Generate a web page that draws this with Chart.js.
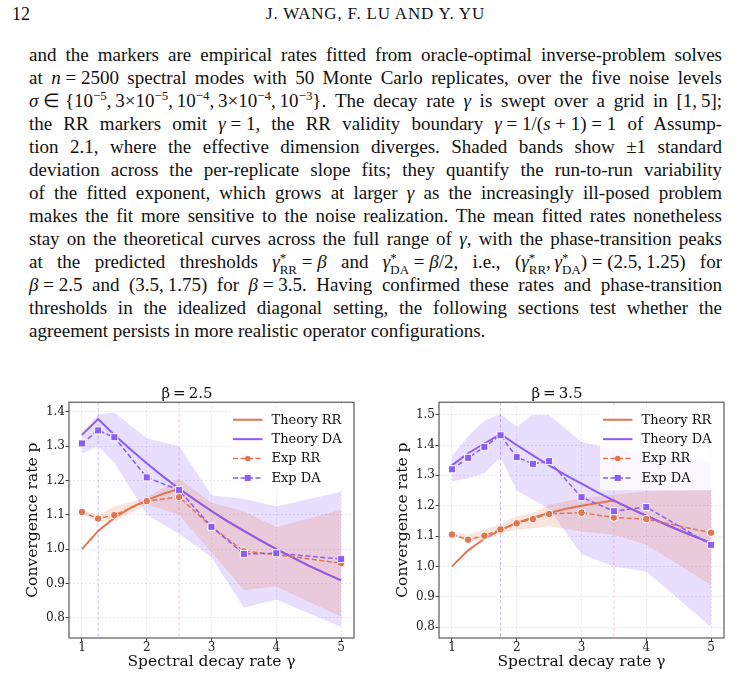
<!DOCTYPE html>
<html>
<head>
<meta charset="utf-8">
<script src="https://cdn.jsdelivr.net/npm/chart.js@4.4.1/dist/chart.umd.min.js"></script>
<style>
  html, body { margin: 0; padding: 0; background: #fff; }
  body { width: 751px; height: 677px; position: relative; overflow: hidden; font-family: "Liberation Serif", serif; color: #111; }
  .hdr { position: absolute; top: 3px; font-size: 18px; line-height: 22px; white-space: nowrap; }
  .ln { position: absolute; left: 29px; width: 693px; font-size: 19px; line-height: 22px; white-space: nowrap; }
  sup { font-size: 0.68em; vertical-align: 0.55em; line-height: 0; }
  .ss { display: inline-block; font-size: 0.68em; line-height: 0.95; vertical-align: -0.45em; }
  .ss span { display: block; }
  canvas { position: absolute; top: 382px; }
</style>
</head>
<body>

<div class="hdr" style="left:12px">12</div>
<div class="hdr" style="left:0; width:751px; text-align:center; font-size:17px; letter-spacing:0.8px">J. WANG, F. LU AND Y. YU</div>

<div class="ln j" style="top:44px"><span>and the markers are empirical rates fitted from oracle-optimal inverse-problem solves</span></div>
<div class="ln j" style="top:67px"><span>at <i>n</i>&#8197;=&#8197;2500 spectral modes with 50 Monte Carlo replicates, over the five noise levels</span></div>
<div class="ln j" style="top:90px"><span><i>σ</i>&#8197;∈&#8197;{10<sup>−5</sup>,&#8201;3×10<sup>−5</sup>,&#8201;10<sup>−4</sup>,&#8201;3×10<sup>−4</sup>,&#8201;10<sup>−3</sup>}. The decay rate <i>γ</i> is swept over a grid in [1,&#8201;5];</span></div>
<div class="ln j" style="top:113px"><span>the RR markers omit <i>γ</i>&#8197;=&#8197;1, the RR validity boundary <i>γ</i>&#8197;=&#8197;1/(<i>s</i>&#8197;+&#8197;1)&#8197;=&#8197;1 of Assump-</span></div>
<div class="ln j" style="top:136px"><span>tion 2.1, where the effective dimension diverges. Shaded bands show ±1 standard</span></div>
<div class="ln j" style="top:159px"><span>deviation across the per-replicate slope fits; they quantify the run-to-run variability</span></div>
<div class="ln j" style="top:182px"><span>of the fitted exponent, which grows at larger <i>γ</i> as the increasingly ill-posed problem</span></div>
<div class="ln j" style="top:205px"><span>makes the fit more sensitive to the noise realization. The mean fitted rates nonetheless</span></div>
<div class="ln j" style="top:228px"><span>stay on the theoretical curves across the full range of <i>γ</i>, with the phase-transition peaks</span></div>
<div class="ln j" style="top:251px"><span>at the predicted thresholds <i>γ</i><span class="ss"><span>*</span><span>RR</span></span>&#8197;=&#8197;<i>β</i> and <i>γ</i><span class="ss"><span>*</span><span>DA</span></span>&#8197;=&#8197;<i>β</i>/2, i.e., (<i>γ</i><span class="ss"><span>*</span><span>RR</span></span>,&#8201;<i>γ</i><span class="ss"><span>*</span><span>DA</span></span>)&#8197;=&#8197;(2.5,&#8201;1.25) for</span></div>
<div class="ln j" style="top:274px"><span><i>β</i>&#8197;=&#8197;2.5 and (3.5,&#8201;1.75) for <i>β</i>&#8197;=&#8197;3.5. Having confirmed these rates and phase-transition</span></div>
<div class="ln j" style="top:297px"><span>thresholds in the idealized diagonal setting, the following sections test whether the</span></div>
<div class="ln" style="top:320px"><span>agreement persists in more realistic operator configurations.</span></div>

<canvas id="chartL" width="345" height="295" style="left:20px"></canvas>
<canvas id="chartR" width="345" height="295" style="left:390px"></canvas>

<script>
// spread each justified line to the text width
document.querySelectorAll(".ln.j").forEach(el => {
    const span = el.firstElementChild;
    const w = span.getBoundingClientRect().width;
    const n = (span.textContent.match(/ /g) || []).length;
    if (n) span.style.wordSpacing = ((693 - w) / n) + "px";
});

// ---- data ----
const thGamma = [1, 1.25, 1.5, 1.75, 2, 2.25, 2.5, 2.75, 3, 3.25, 3.5, 3.75, 4, 4.25, 4.5, 4.75, 5];

// beta = 2.5
const thRR_L = [1.000, 1.053, 1.091, 1.120, 1.143, 1.161, 1.176, 1.143, 1.111, 1.081, 1.053, 1.026, 1.000, 0.976, 0.952, 0.930, 0.909];
const thDA_L = [1.333, 1.379, 1.333, 1.290, 1.250, 1.212, 1.176, 1.143, 1.111, 1.081, 1.053, 1.026, 1.000, 0.976, 0.952, 0.930, 0.909];
const expGamma_L = [1, 1.25, 1.5, 2, 2.5, 3, 3.5, 4, 5];
const expRR_L = [1.108, 1.089, 1.099, 1.140, 1.152, 1.065, 0.994, 0.984, 0.959];
const expDA_L = [1.308, 1.346, 1.326, 1.209, 1.172, 1.065, 0.986, 0.988, 0.971];
const rrHi_L = [1.115, 1.097, 1.125, 1.150, 1.205, 1.135, 1.110, 1.064, 1.115];
const rrLo_L = [1.101, 1.081, 1.080, 1.130, 1.100, 0.990, 0.881, 0.891, 0.803];
const daHi_L = [1.340, 1.392, 1.398, 1.323, 1.300, 1.157, 1.147, 1.124, 1.167];
const daLo_L = [1.278, 1.300, 1.252, 1.100, 1.045, 0.976, 0.829, 0.853, 0.773];
const thresholds_L = [1.25, 2.5];   // DA, RR

// beta = 3.5
const thRR_R = [1.000, 1.053, 1.091, 1.120, 1.143, 1.161, 1.176, 1.189, 1.200, 1.209, 1.217, 1.191, 1.167, 1.143, 1.120, 1.098, 1.077];
const thDA_R = [1.333, 1.373, 1.405, 1.436, 1.400, 1.366, 1.333, 1.302, 1.273, 1.244, 1.217, 1.191, 1.167, 1.143, 1.120, 1.098, 1.077];
const expGamma_R = [1, 1.25, 1.5, 1.75, 2, 2.25, 2.5, 3, 3.5, 4, 5];
const expRR_R = [1.105, 1.088, 1.101, 1.122, 1.142, 1.156, 1.173, 1.177, 1.161, 1.156, 1.111];
const expDA_R = [1.320, 1.358, 1.394, 1.432, 1.360, 1.338, 1.347, 1.228, 1.182, 1.196, 1.071];
const rrHi_R = [1.112, 1.104, 1.121, 1.140, 1.165, 1.176, 1.203, 1.225, 1.236, 1.248, 1.253];
const rrLo_R = [1.100, 1.082, 1.088, 1.108, 1.122, 1.126, 1.132, 1.115, 1.104, 1.071, 0.939];
const daHi_R = [1.363, 1.430, 1.480, 1.502, 1.460, 1.500, 1.500, 1.410, 1.388, 1.368, 1.345];
const daLo_R = [1.281, 1.290, 1.307, 1.360, 1.250, 1.220, 1.190, 1.040, 1.000, 0.983, 0.800];
const thresholds_R = [1.75, 3.5];   // DA, RR

const xTicks = [1, 2, 3, 4, 5];
const yTicks_L = [0.8, 0.9, 1.0, 1.1, 1.2, 1.3, 1.4];
const yTicks_R = [0.8, 0.9, 1.0, 1.1, 1.2, 1.3, 1.4, 1.5];

const RR = "#e07650";
const DA = "#8b5cf6";
const SERIF = "DejaVu Serif";
const GRID = "rgba(120,120,170,0.22)";

const zip = (xs, ys) => xs.map((x, i) => ({ x: x, y: ys[i] }));

// frame, threshold lines and a boxed legend on top
const paperPlugin = {
    id: "paper",
    beforeDatasetsDraw(chart, args, opts) {
        const { ctx, chartArea: a, scales } = chart;
        ctx.save();
        ctx.lineWidth = 0.9;
        ctx.setLineDash([3.5, 2]);
        [[opts.thresholds[0], "rgba(139,92,246,0.45)"], [opts.thresholds[1], "rgba(224,118,80,0.4)"]].forEach(([g, c]) => {
            const x = scales.x.getPixelForValue(g);
            ctx.strokeStyle = c;
            ctx.beginPath();
            ctx.moveTo(x, a.top);
            ctx.lineTo(x, a.bottom);
            ctx.stroke();
        });
        ctx.restore();
    },
    afterDraw(chart) {
        const { ctx, chartArea: a } = chart;
        ctx.save();
        // legend
        ctx.fillStyle = "rgba(255,255,255,0.8)";
        ctx.fillRect(a.right - 124, a.top + 6, 121, 82);
        const names = ["Theory RR", "Theory DA", "Exp RR", "Exp DA"];
        names.forEach((name, i) => {
            const ds = chart.data.datasets.find(d => d.label === name);
            const y = a.top + 17.5 + i * 19.4;
            const x0 = a.right - 121, x1 = a.right - 91.5;
            ctx.strokeStyle = ds.borderColor;
            ctx.lineWidth = ds.borderWidth;
            ctx.setLineDash(ds.borderDash || []);
            ctx.beginPath();
            ctx.moveTo(x0, y);
            ctx.lineTo(x1, y);
            ctx.stroke();
            ctx.setLineDash([]);
            if (ds.pointRadius) {
                const xm = (x0 + x1) / 2;
                ctx.fillStyle = ds.pointBackgroundColor;
                if (ds.pointStyle === "rect") {
                    ctx.fillRect(xm - 3, y - 3, 6, 6);
                } else {
                    ctx.beginPath();
                    ctx.arc(xm, y, 2.8, 0, Math.PI * 2);
                    ctx.fill();
                }
            }
            ctx.fillStyle = "#111";
            ctx.font = "13px " + SERIF;
            ctx.textBaseline = "middle";
            ctx.fillText(name, a.right - 82.5, y + 0.5);
        });
        // axes frame
        ctx.strokeStyle = "#5a5a5a";
        ctx.lineWidth = 1.2;
        ctx.strokeRect(a.left, a.top, a.right - a.left, a.bottom - a.top);
        ctx.restore();
    }
};

function buildChart(id, title, th, exp, bands, yRange, yTicks, thresholds) {
    const canvas = document.getElementById(id);
    const ctx = canvas.getContext("2d");
    return new Chart(ctx, {
        type: "line",
        data: {
            datasets: [
                { label: "Exp DA", data: zip(exp.gamma, exp.da), borderColor: DA, backgroundColor: DA, borderWidth: 1.5, borderDash: [5, 2.5],
                  pointStyle: "rect", pointRadius: 5, pointBackgroundColor: DA, pointBorderColor: "#fff", pointBorderWidth: 1, fill: false, order: 0 },
                { label: "Exp RR", data: zip(exp.gamma, exp.rr), borderColor: RR, backgroundColor: RR, borderWidth: 1.5, borderDash: [5, 2.5],
                  pointStyle: "circle", pointRadius: 3.8, pointBackgroundColor: RR, pointBorderColor: "#fff", pointBorderWidth: 1, fill: false, order: 1 },
                { label: "Theory DA", data: zip(thGamma, th.da), borderColor: DA, borderWidth: 2, pointRadius: 0, fill: false, order: 2 },
                { label: "Theory RR", data: zip(thGamma, th.rr), borderColor: RR, borderWidth: 2, pointRadius: 0, fill: false, order: 3 },
                { label: "da band", data: zip(exp.gamma, bands.daHi), borderColor: "rgba(0,0,0,0)", borderWidth: 0, pointRadius: 0,
                  backgroundColor: "rgba(139,92,246,0.2)", fill: "+1", order: 5 },
                { label: "da band lo", data: zip(exp.gamma, bands.daLo), borderColor: "rgba(0,0,0,0)", borderWidth: 0, pointRadius: 0, fill: false, order: 5 },
                { label: "rr band", data: zip(exp.gamma, bands.rrHi), borderColor: "rgba(0,0,0,0)", borderWidth: 0, pointRadius: 0,
                  backgroundColor: "rgba(228,121,79,0.2)", fill: "+1", order: 4 },
                { label: "rr band lo", data: zip(exp.gamma, bands.rrLo), borderColor: "rgba(0,0,0,0)", borderWidth: 0, pointRadius: 0, fill: false, order: 4 }
            ]
        },
        options: {
            responsive: false,
            animation: false,
            events: [],
            layout: { padding: { left: 0, right: 11, top: 0, bottom: 0 } },
            plugins: {
                legend: { display: false },
                tooltip: { enabled: false },
                title: { display: true, text: title, color: "#111",
                         font: { family: SERIF, size: 15, weight: "normal", lineHeight: 1.15 }, padding: { top: 3, bottom: 0 } },
                paper: { thresholds: thresholds }
            },
            scales: {
                x: {
                    type: "linear", min: 0.8, max: 5.2,
                    afterBuildTicks: s => { s.ticks = xTicks.map(v => ({ value: v })); },
                    afterFit: s => { s.height = 39; },
                    grid: { color: GRID, lineWidth: 0.8, tickColor: "#444", tickLength: 3.5, tickWidth: 1, tickBorderDash: [] },
                    border: { display: false, dash: [2, 2] },
                    ticks: { color: "#222", font: { family: SERIF, size: 12, lineHeight: 1 }, padding: 0, maxRotation: 0, callback: v => String(v) },
                    title: { display: true, text: "Spectral decay rate γ", color: "#111", font: { family: SERIF, size: 15.5 }, padding: { top: 0, bottom: 6 } }
                },
                y: {
                    type: "linear", min: yRange[0], max: yRange[1],
                    afterBuildTicks: s => { s.ticks = yTicks.map(v => ({ value: v })); },
                    afterFit: s => { s.width = 49; },
                    grid: { color: GRID, lineWidth: 0.8, tickColor: "#444", tickLength: 3.5, tickWidth: 1, tickBorderDash: [] },
                    border: { display: false, dash: [2, 2] },
                    ticks: { color: "#222", font: { family: SERIF, size: 12 }, padding: 0.5, callback: v => v.toFixed(1) },
                    title: { display: true, text: "Convergence rate p", color: "#111", font: { family: SERIF, size: 15.5 }, padding: { top: 3.5, bottom: 0 } }
                }
            }
        },
        plugins: [paperPlugin]
    });
}

buildChart("chartL", "β\u2009=\u20092.5",
    { rr: thRR_L, da: thDA_L },
    { gamma: expGamma_L, rr: expRR_L, da: expDA_L },
    { rrHi: rrHi_L, rrLo: rrLo_L, daHi: daHi_L, daLo: daLo_L },
    [0.741, 1.428], yTicks_L, thresholds_L);

buildChart("chartR", "β\u2009=\u20093.5",
    { rr: thRR_R, da: thDA_R },
    { gamma: expGamma_R, rr: expRR_R, da: expDA_R },
    { rrHi: rrHi_R, rrLo: rrLo_R, daHi: daHi_R, daLo: daLo_R },
    [0.764, 1.541], yTicks_R, thresholds_R);
</script>
</body>
</html>
